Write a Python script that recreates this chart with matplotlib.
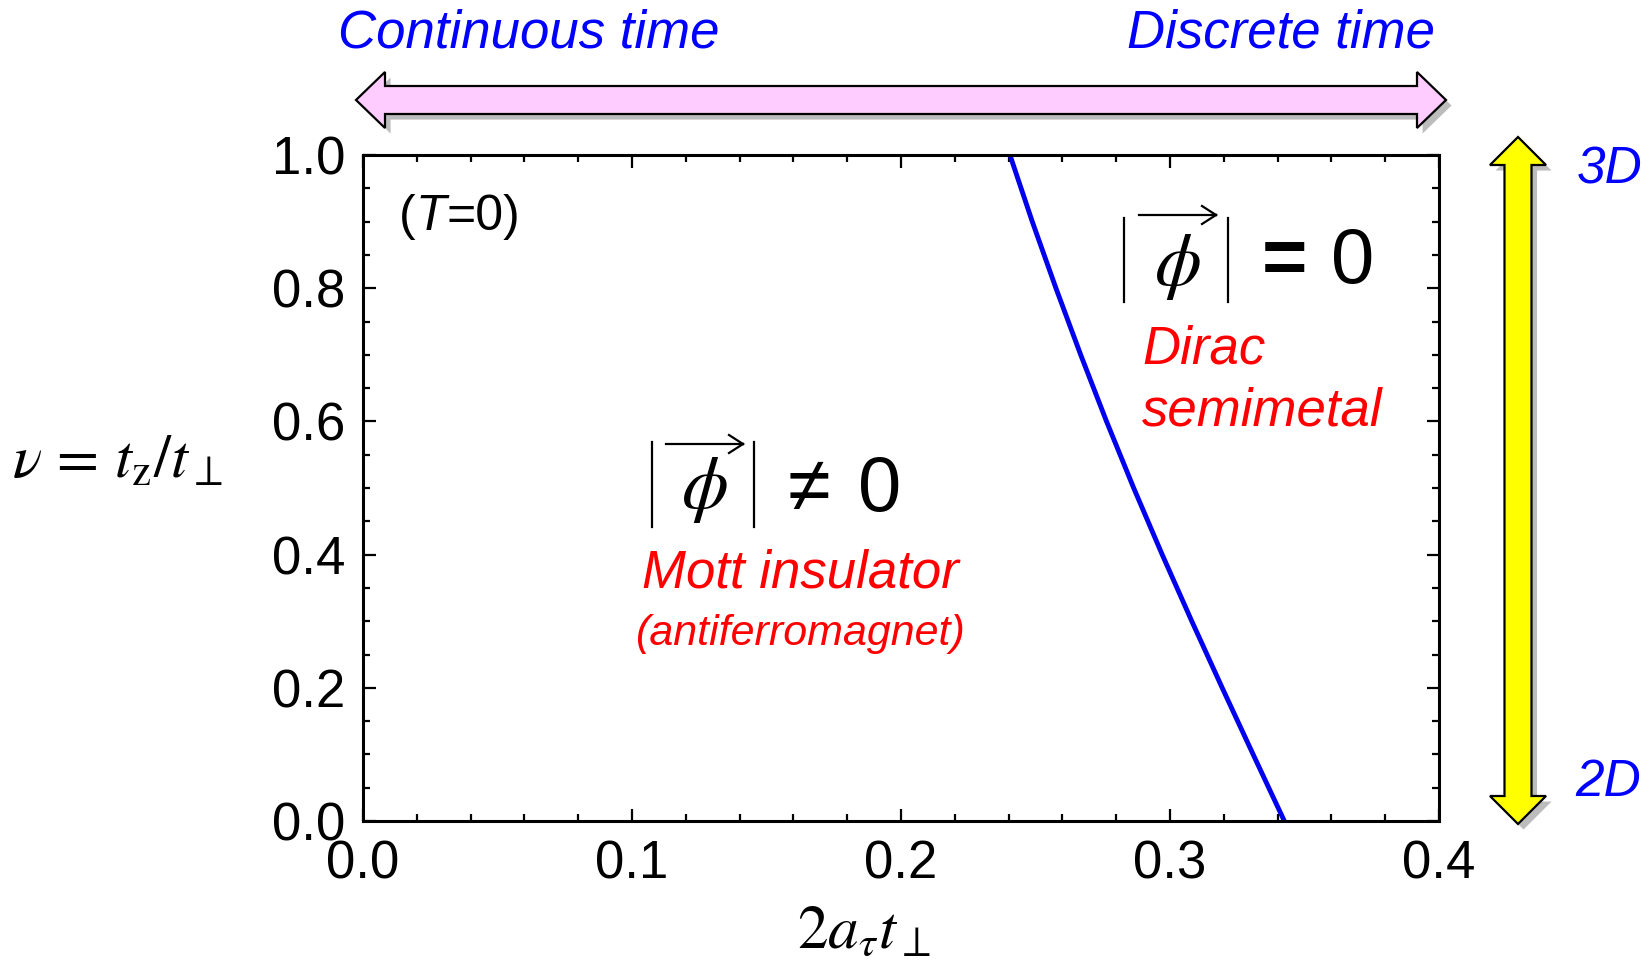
import matplotlib
matplotlib.use("Agg")
import matplotlib.pyplot as plt
import matplotlib.patheffects as pe
from matplotlib.patches import Polygon
from matplotlib.lines import Line2D
from matplotlib.ticker import MultipleLocator
import numpy as np

# phase boundary
nu_vals = [0.0, 0.1, 0.2, 0.3, 0.4, 0.5, 0.6, 0.7, 0.8, 0.9, 1.0]
at_vals = [0.3425, 0.3309, 0.3194, 0.3081, 0.2971, 0.2865, 0.2764, 0.2668, 0.2576, 0.2488, 0.2405]

x_ticks = [0.0, 0.1, 0.2, 0.3, 0.4]
y_ticks = [0.0, 0.2, 0.4, 0.6, 0.8, 1.0]

W, H = 1652, 968
plt.rcParams['mathtext.fontset'] = 'stix'
plt.rcParams['font.family'] = ['Liberation Sans', 'DejaVu Sans']

fig = plt.figure(figsize=(W / 100, H / 100), dpi=100)
ax = fig.add_axes([363 / W, 1 - 821 / H, 1076 / W, 666 / H])

ax.plot(at_vals, nu_vals, color='#0000ee', lw=3.5)
ax.set_xlim(0, 0.4)
ax.set_ylim(0, 1.0)
ax.set_xticks(x_ticks)
ax.set_yticks(y_ticks)
ax.set_xticklabels([f"{v:.1f}" for v in x_ticks])
ax.set_yticklabels([f"{v:.1f}" for v in y_ticks])
ax.xaxis.set_minor_locator(MultipleLocator(0.02))
ax.yaxis.set_minor_locator(MultipleLocator(0.05))
ax.tick_params(which='both', direction='in', top=True, right=True, width=1.6,
               labelsize=38)
ax.tick_params(which='major', length=9, pad=13)
ax.tick_params(which='minor', length=5)
for s in ax.spines.values():
    s.set_linewidth(2.2)

# axis labels (serif, math)
fig.text(864 / W, 1 - 932 / H, r'$2a_\tau t_\perp$', fontsize=44,
         ha='center', va='center')
fig.text(118 / W, 1 - 462 / H, r'$\nu\,=\,t_{\rm z}/t_\perp$', fontsize=44,
         ha='center', va='center')

# (T=0) with sans italic T
t1 = ax.text(0.0135, 0.907, '(', fontsize=36, va='center', ha='left')
t2 = ax.annotate('T', xy=(1, 0), xycoords=t1, fontsize=36, style='italic',
                 va='bottom', ha='left')
ax.annotate('=0)', xy=(1, 0), xycoords=t2, fontsize=36, va='bottom', ha='left')


def px(x, y):
    return x / W, 1 - y / H


def abs_phi(x0, x1, ytop, ybot, ar_x0, ar_x1, ar_y, phi_x, phi_y):
    # |phi-vector| drawn from pieces: two bars, arrow, phi
    for xb in (x0, x1):
        fig.add_artist(Line2D([xb / W, xb / W], [1 - ytop / H, 1 - ybot / H],
                              color='black', lw=1.6, transform=fig.transFigure))
    fig.add_artist(Line2D([ar_x0 / W, ar_x1 / W], [1 - ar_y / H, 1 - ar_y / H],
                          color='black', lw=1.6, transform=fig.transFigure))
    for dy in (-9, 9):
        fig.add_artist(Line2D([(ar_x1 - 14) / W, ar_x1 / W],
                              [1 - (ar_y + dy) / H, 1 - ar_y / H],
                              color='black', lw=1.6, transform=fig.transFigure))
    fig.text(*px(phi_x, phi_y), r'$\phi$', fontsize=54, ha='center', va='center')


abs_phi(652, 754, 442, 527, 666, 743, 444, 704, 490)
fig.text(*px(788, 490), '≠', fontsize=56, ha='left', va='center')
fig.text(*px(858, 490), '0', fontsize=56, ha='left', va='center')

abs_phi(1124, 1228, 218, 302, 1139, 1216, 215, 1177, 267)
fig.text(*px(1262, 262), '=', fontsize=56, ha='left', va='center',
         fontweight='bold')
fig.text(*px(1331, 262), '0', fontsize=56, ha='left', va='center')

ax.text(0.1628, 0.372, 'Mott insulator', fontsize=38, style='italic', color='red',
        ha='center', va='center')
ax.text(0.1628, 0.281, '(antiferromagnet)', fontsize=31, style='italic', color='red',
        ha='center', va='center')
ax.text(0.2896, 0.708, 'Dirac', fontsize=38, style='italic', color='red',
        ha='left', va='center')
ax.text(0.2896, 0.615, 'semimetal', fontsize=38, style='italic', color='red',
        ha='left', va='center')

# top labels
fig.text(338 / W, 1 - 48 / H, 'Continuous time', fontsize=38, style='italic',
         color='#0000ff', ha='left', va='baseline')
fig.text(1435 / W, 1 - 48 / H, 'Discrete time', fontsize=38, style='italic',
         color='#0000ff', ha='right', va='baseline')
fig.text(1610 / W, 1 - 170 / H, '3D', fontsize=37, style='italic',
         color='#0000ff', ha='center', va='center')
fig.text(1608 / W, 1 - 782 / H, '2D', fontsize=37, style='italic',
         color='#0000ff', ha='center', va='center')


def block_darrow(p0, p1, shaft, head, hlen):
    # double-headed block arrow along the line p0 -> p1, in pixels
    p0 = np.array(p0, float)
    p1 = np.array(p1, float)
    d = (p1 - p0) / np.linalg.norm(p1 - p0)
    n = np.array([-d[1], d[0]])
    a = p0 + d * hlen
    b = p1 - d * hlen
    pts = [p0, a + n * head, a + n * shaft, b + n * shaft, b + n * head, p1,
           b - n * head, b - n * shaft, a - n * shaft, a - n * head]
    return np.array([px(x, y) for x, y in pts])


shadow = [pe.SimplePatchShadow(offset=(4, -4), shadow_rgbFace='0.35', alpha=0.4),
          pe.Normal()]
pink = Polygon(block_darrow((356, 100), (1446, 100), 14, 28, 29), closed=True,
               facecolor='#ffccff', edgecolor='black', lw=1.6,
               transform=fig.transFigure, path_effects=shadow)
fig.add_artist(pink)
yellow = Polygon(block_darrow((1518, 137), (1518, 824), 13.5, 28, 28), closed=True,
                 facecolor='#ffff00', edgecolor='black', lw=1.6,
                 transform=fig.transFigure, path_effects=shadow)
fig.add_artist(yellow)

fig.savefig('out.png', dpi=100)
